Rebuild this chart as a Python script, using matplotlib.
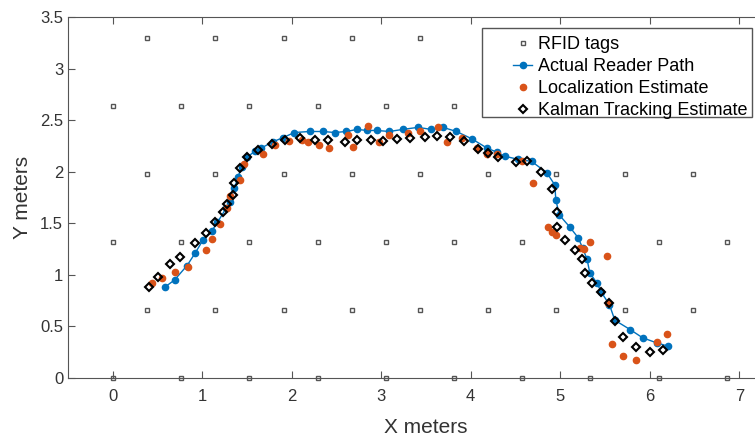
import matplotlib
matplotlib.use('Agg')
import matplotlib.pyplot as plt
from matplotlib.patches import Rectangle

# RFID tag grid (staggered rows)
tag_x_even = [0, 0.76, 1.52, 2.29, 3.05, 3.81, 4.57, 5.33, 6.10, 6.86]
tag_x_odd = [0.38, 1.14, 1.91, 2.67, 3.43, 4.19, 4.95, 5.72, 6.48]
tag_y_even = [0, 1.32, 2.64]
tag_y_odd = [0.66, 1.98, 3.30]

# actual reader path
actual_x = [0.58, 0.69, 0.83, 0.92, 1.01, 1.11, 1.17, 1.27, 1.31, 1.36, 1.40,
            1.44, 1.50, 1.59, 1.66, 1.79, 1.90, 2.03, 2.20, 2.35, 2.48, 2.61,
            2.73, 2.84, 2.95, 3.09, 3.24, 3.41, 3.56, 3.69, 3.84, 4.01, 4.18,
            4.29, 4.38, 4.53, 4.68, 4.85, 4.94, 4.95, 4.99, 5.11, 5.20, 5.25,
            5.30, 5.33, 5.41, 5.46, 5.55, 5.61, 5.78, 5.92, 6.08, 6.20]
actual_y = [0.88, 0.95, 1.09, 1.21, 1.34, 1.43, 1.51, 1.65, 1.71, 1.84, 1.95,
            2.05, 2.14, 2.20, 2.23, 2.29, 2.33, 2.38, 2.39, 2.39, 2.38, 2.39,
            2.41, 2.40, 2.40, 2.39, 2.41, 2.43, 2.41, 2.43, 2.39, 2.32, 2.23,
            2.19, 2.15, 2.12, 2.10, 1.99, 1.87, 1.73, 1.58, 1.46, 1.36, 1.26,
            1.15, 1.02, 0.92, 0.83, 0.71, 0.56, 0.47, 0.39, 0.34, 0.31]

# localization estimates
loc_x = [0.44, 0.55, 0.69, 0.84, 1.04, 1.11, 1.20, 1.28, 1.31, 1.42, 1.47,
         1.68, 1.81, 1.97, 2.11, 2.18, 2.31, 2.42, 2.63, 2.68, 2.85, 2.98,
         3.09, 3.30, 3.43, 3.63, 3.74, 3.90, 4.07, 4.18, 4.29, 4.57, 4.69,
         4.86, 4.91, 4.95, 5.22, 5.27, 5.33, 5.52, 5.53, 5.58, 5.70, 5.85,
         6.08, 6.19]
loc_y = [0.92, 0.97, 1.03, 1.08, 1.24, 1.35, 1.49, 1.65, 1.76, 1.92, 2.07,
         2.17, 2.26, 2.30, 2.31, 2.29, 2.26, 2.23, 2.36, 2.24, 2.44, 2.29,
         2.36, 2.38, 2.39, 2.43, 2.29, 2.33, 2.23, 2.17, 2.17, 2.10, 1.89,
         1.46, 1.42, 1.39, 1.26, 1.25, 1.32, 1.18, 0.73, 0.33, 0.21, 0.17,
         0.35, 0.43]

# kalman tracking estimates
kal_x = [0.41, 0.51, 0.64, 0.75, 0.92, 1.04, 1.14, 1.23, 1.28, 1.34, 1.35,
         1.42, 1.50, 1.62, 1.78, 1.92, 2.09, 2.26, 2.40, 2.59, 2.73, 2.89,
         3.02, 3.18, 3.32, 3.49, 3.62, 3.77, 3.93, 4.08, 4.19, 4.30, 4.51,
         4.63, 4.79, 4.91, 4.96, 4.96, 5.05, 5.16, 5.24, 5.28, 5.35, 5.46,
         5.55, 5.61, 5.70, 5.85, 6.00, 6.15]
kal_y = [0.88, 0.98, 1.11, 1.17, 1.31, 1.41, 1.51, 1.61, 1.69, 1.77, 1.89,
         2.04, 2.14, 2.21, 2.27, 2.31, 2.33, 2.31, 2.31, 2.29, 2.31, 2.31,
         2.30, 2.32, 2.33, 2.34, 2.35, 2.34, 2.30, 2.22, 2.18, 2.14, 2.09,
         2.10, 2.00, 1.83, 1.61, 1.46, 1.34, 1.24, 1.15, 1.02, 0.92, 0.83,
         0.73, 0.55, 0.40, 0.30, 0.25, 0.27]

plt.rcParams['font.family'] = 'Liberation Sans'

fig = plt.figure(figsize=(7.55, 4.36), dpi=100)
# axes run off the right edge like the cropped original
ax = fig.add_axes([68 / 755, 58 / 436, 716 / 755, 361 / 436])

tx = [x for y in tag_y_even for x in tag_x_even] + [x for y in tag_y_odd for x in tag_x_odd]
ty = [y for y in tag_y_even for x in tag_x_even] + [y for y in tag_y_odd for x in tag_x_odd]
ax.plot(tx, ty, 's', ms=3.5, mfc='none', mec='#555555', mew=1, label='RFID tags', clip_on=False)
ax.plot(actual_x, actual_y, '-o', color='#0072BD', lw=1, ms=4.5, label='Actual Reader Path')
ax.plot(loc_x, loc_y, 'o', color='#D95319', ms=4.5, ls='none', label='Localization Estimate')
ax.plot(kal_x, kal_y, 'D', ms=3.6, mfc='none', mec='black', mew=1.5, ls='none',
        label='Kalman Tracking Estimate')

ax.set_xlim(-0.5, 7.5)
ax.set_ylim(0, 3.5)
ax.set_xticks(range(0, 8))
ax.set_yticks([0, 0.5, 1, 1.5, 2, 2.5, 3, 3.5])
ax.set_yticklabels(['0', '0.5', '1', '1.5', '2', '2.5', '3', '3.5'])
ax.tick_params(direction='in', top=True, right=True, length=5, labelsize=12,
               color='#555555', labelcolor='#333333')
ax.tick_params(axis='x', pad=8)
for s in ax.spines.values():
    s.set_color('#555555')
ax.set_xlabel('X meters', fontsize=15, color='#333333', labelpad=10)
ax.set_ylabel('Y meters', fontsize=15, color='#333333', labelpad=6)

# legend frame drawn separately (MATLAB-style wide left margin)
ax.add_patch(Rectangle((0.578, 0.722), 0.377, 0.2475, transform=ax.transAxes,
                       facecolor='white', edgecolor='#555555', lw=1, zorder=4.5,
                       clip_on=False))
leg = ax.legend(loc='upper left', bbox_to_anchor=(0.621, 0.947), borderaxespad=0,
                frameon=False, fontsize=13, handlelength=1.1, handletextpad=0.3,
                labelspacing=0.28, borderpad=0)

fig.savefig('out.png', dpi=100)
